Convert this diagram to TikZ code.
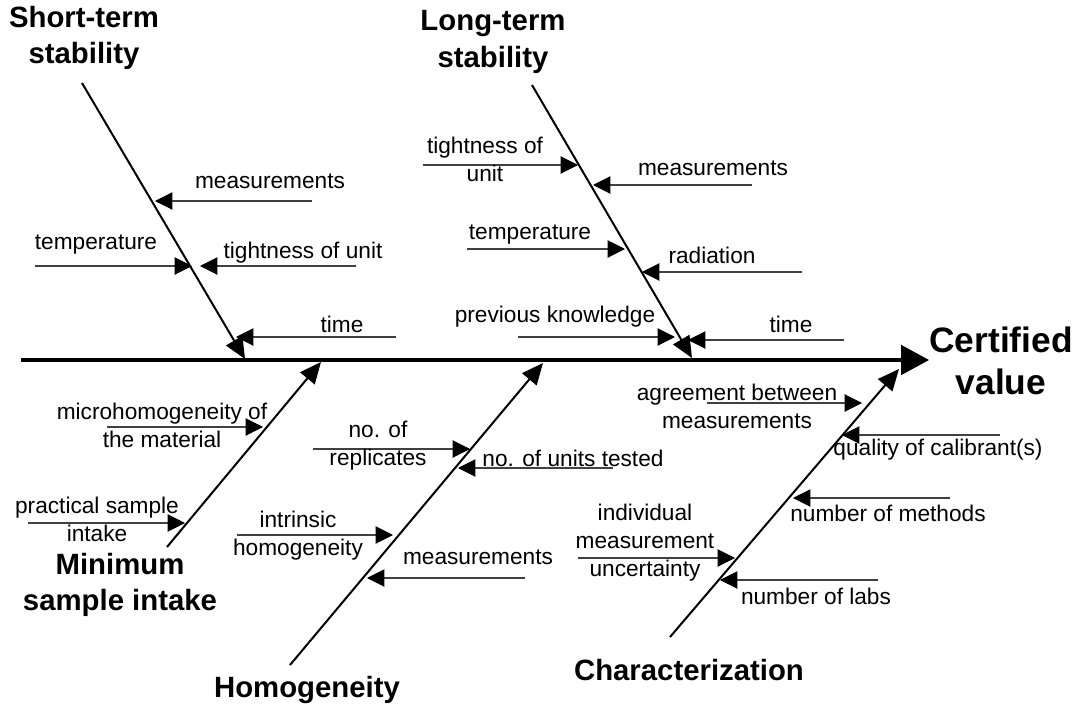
\documentclass[tikz,border=0pt]{standalone}
\usepackage{fontspec}
\setmainfont{Liberation Sans}
\usetikzlibrary{arrows.meta}
\tikzset{
  spine/.style={line width=3pt,-{Triangle[length=21pt,width=22pt]}},
  bone/.style={line width=1.5pt,-{Triangle[length=16pt,width=14pt]}},
  causearrow/.style={draw=black!75,line width=.8pt,-{Triangle[length=13pt,width=13pt,color=black]}},
  causetext/.style={font=\fontsize{17}{21}\selectfont,align=center,inner sep=0pt},
  bonetext/.style={font=\fontsize{22}{27.5}\selectfont\bfseries,align=center,inner sep=0pt},
  effecttext/.style={font=\fontsize{26.5}{32}\selectfont\bfseries,align=center,inner sep=0pt},
}

\begin{document}
\begin{tikzpicture}[x=.75pt,y=-.75pt]
  \useasboundingbox (0,0) rectangle (1076,707);

  % Spine and effect.
  \node[effecttext] (effect) at (1001,361) {Certified\\value};
  \coordinate (tail) at (21,360);
  \draw[spine] (tail) -- (tail -| effect.west);

  % I. Short-term stability.
  \node[bonetext] (short) at (84,38) {Short-term\\stability};
  \coordinate (b1t) at (82,83);
  \coordinate (b1h) at (245,359);
  \draw[bone] (b1t) -- (b1h);
  \foreach \n/\xa/\xb/\y in {s1/312/155/201,s2/35/192/266,s3/356/200/266,s4/396/236/337}
  {\coordinate (\n-from) at (\xa,\y);
   \coordinate (\n-to) at (\xb,\y);
   \draw[causearrow] (\n-from) -- (\n-to);}
  \node[causetext] (s1) at (270,181) {measurements};
  \node[causetext] (s2) at (96,245) {temperature};
  \node[causetext] (s3) at (303,253) {tightness of unit};
  \node[causetext] (s4) at (342,324) {time};

  % II. Long-term stability.
  \node[bonetext] (long) at (493,42) {Long-term\\stability};
  \coordinate (b2t) at (532,85);
  \coordinate (b2h) at (692,358);
  \draw[bone] (b2t) -- (b2h);
  \foreach \n/\xa/\xb/\y in {l1/423/578/165,l2/752/593/185,l3/467/625/249,
                             l4/802/642/272,l5/518/675/337,l6/844/688/340}
  {\coordinate (\n-from) at (\xa,\y);
   \coordinate (\n-to) at (\xb,\y);
   \draw[causearrow] (\n-from) -- (\n-to);}
  \node[causetext] (l1) at (485,159) {tightness of\\unit};
  \node[causetext] (l2) at (713,168) {measurements};
  \node[causetext] (l3) at (530,235) {temperature};
  \node[causetext] (l4) at (712,255) {radiation};
  \node[causetext] (l5) at (555,317) {previous knowledge};
  \node[causetext] (l6) at (791,324) {time};

  % III. Minimum sample intake.
  \node[bonetext] (intake) at (120,585) {Minimum\\sample intake};
  \coordinate (b3t) at (167,547);
  \coordinate (b3h) at (321,362);
  \draw[bone] (b3t) -- (b3h);
  \foreach \n/\xa/\xb/\y in {m1/107/263/427,m2/28/185/523}
  {\coordinate (\n-from) at (\xa,\y);
   \coordinate (\n-to) at (\xb,\y);
   \draw[causearrow] (\n-from) -- (\n-to);}
  \node[causetext] (m1) at (162,425) {microhomogeneity of\\the material};
  \node[causetext] (m2) at (97,519) {practical sample\\intake};

  % IV. Homogeneity.
  \node[bonetext] (homog) at (307,690) {Homogeneity};
  \coordinate (b4t) at (290,665);
  \coordinate (b4h) at (543,363);
  \draw[bone] (b4t) -- (b4h);
  \foreach \n/\xa/\xb/\y in {h1/313/470/449,h2/613/458/468,h3/237/393/535,h4/525/367/578}
  {\coordinate (\n-from) at (\xa,\y);
   \coordinate (\n-to) at (\xb,\y);
   \draw[causearrow] (\n-from) -- (\n-to);}
  \node[causetext] (h1) at (378,446) {no. of\\replicates};
  \node[causetext] (h2) at (573,458) {no. of units tested};
  \node[causetext] (h3) at (298,536) {intrinsic\\homogeneity};
  \node[causetext] (h4) at (478,557) {measurements};

  % V. Characterization.
  \node[bonetext] (charac) at (689,670) {Characterization};
  \coordinate (b5t) at (670,637);
  \coordinate (b5h) at (899,369);
  \draw[bone] (b5t) -- (b5h);
  \foreach \n/\xa/\xb/\y in {c1/707/862/403,c2/1000/842/435,c3/950/793/498,
                             c4/578/735/558,c5/878/720/580}
  {\coordinate (\n-from) at (\xa,\y);
   \coordinate (\n-to) at (\xb,\y);
   \draw[causearrow] (\n-from) -- (\n-to);}
  \node[causetext] (c1) at (737,406) {agreement between\\measurements};
  \node[causetext] (c2) at (938,450) {quality of calibrant(s)};
  \node[causetext] (c3) at (888,513) {number of methods};
  \node[causetext] (c4) at (645,543) {individual\\measurement\\uncertainty};
  \node[causetext] (c5) at (816,596) {number of labs};
\end{tikzpicture}
\end{document}
